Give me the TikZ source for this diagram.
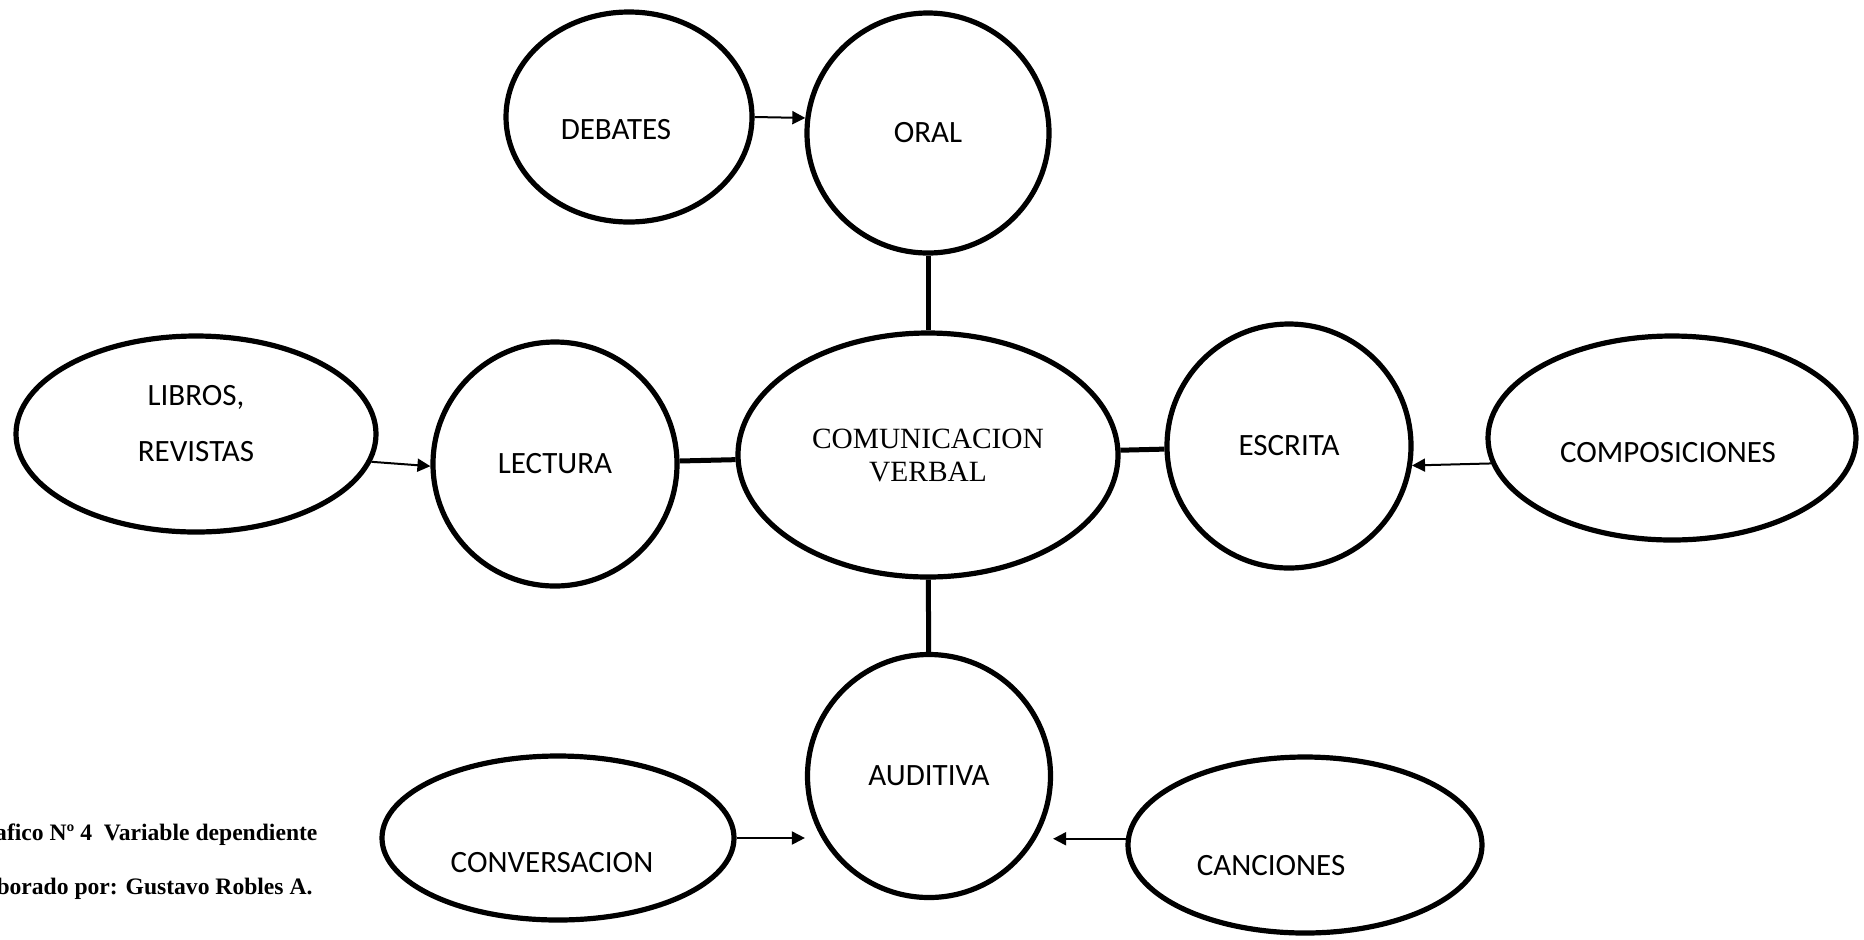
\documentclass[tikz,border=0pt]{standalone}
\usepackage{fontspec}
\setmainfont{Liberation Serif}
\newfontfamily\calibri{Carlito}
\usepackage{tikz}
\usetikzlibrary{shapes,arrows.meta,positioning}

\begin{document}
\begin{tikzpicture}[x=0.5pt,y=-0.5pt]
		\tikzstyle{Oval}	= [ellipse, draw, line width=2.6pt, inner sep=0pt, fill=white, font=\calibri\fontsize{15.5}{19}\selectfont]
		\tikzstyle{Center}	= [font=\fontsize{14.7}{16.5}\selectfont, align=center]
		\tikzstyle{Link}	= [line width=2.5pt]
		\tikzstyle{Arr}		= [line width=1pt, -{Triangle[length=6.5pt,width=6.5pt]}]
		\tikzstyle{Caption}	= [anchor=base west, inner sep=0pt, font=\bfseries\fontsize{11.8}{14}\selectfont]

		\useasboundingbox (0,0) rectangle (1864,939);

		\node (cv) at (928,455) [Oval, Center, minimum width=190pt, minimum height=122pt] {COMUNICACION\\VERBAL};
		\node (oral) at (928,133) [Oval, minimum width=121pt, minimum height=120pt] {ORAL};
		\node (lectura) at (555,464) [Oval, minimum width=122pt, minimum height=122pt] {LECTURA};
		\node (escrita) at (1289,446) [Oval, minimum width=122pt, minimum height=122pt] {ESCRITA};
		\node (aud) at (929,776) [Oval, minimum width=121.5pt, minimum height=121.5pt] {AUDITIVA};
		\node (debates) at (629,117) [Oval, minimum width=123pt, minimum height=105pt,
			label={[xshift=-6.5pt, yshift=-6.5pt, font=\calibri\fontsize{15.5}{19}\selectfont]center:DEBATES}] {};
		\node (libros) at (196,434) [Oval, minimum width=180pt, minimum height=98pt,
			label={[yshift=5pt, align=center, font=\calibri\fontsize{15.5}{19}\selectfont]center:LIBROS,\\[9pt]REVISTAS}] {};
		\node (comp) at (1672,438) [Oval, minimum width=184pt, minimum height=102pt,
			label={[xshift=-2pt, yshift=-7.5pt, font=\calibri\fontsize{15.5}{19}\selectfont]center:COMPOSICIONES}] {};
		\node (conv) at (558,838) [Oval, minimum width=176pt, minimum height=82pt,
			label={[xshift=-3pt, yshift=-12.5pt, font=\calibri\fontsize{15.5}{19}\selectfont]center:CONVERSACION}] {};
		\node (canc) at (1305,845) [Oval, minimum width=177pt, minimum height=88pt,
			label={[xshift=-17pt, yshift=-10.5pt, font=\calibri\fontsize{15.5}{19}\selectfont]center:CANCIONES}] {};

		\draw [-] (oral) to (cv) [Link];
		\draw [-] (lectura) to (cv) [Link];
		\draw [-] (cv) to (escrita) [Link];
		\draw [-] (cv) to (aud) [Link];

		\draw (debates.east) to (oral.173) [Arr];
		\draw (libros.-9) to (lectura.181) [Arr];
		\draw (comp.188) to (escrita.-9) [Arr];
		\draw (conv.east) to (conv.east -| aud.west) [Arr];
		\draw (canc.178) to (canc.178 -| aud.east) [Arr];

		\node (cap1) at (-34,840) [Caption] {Grafico Nº 4\ \ Variable dependiente};
		\node (cap2) at (-38,894) [Caption] {Elaborado por: Gustavo Robles A.};
	\end{tikzpicture}
\end{document}
